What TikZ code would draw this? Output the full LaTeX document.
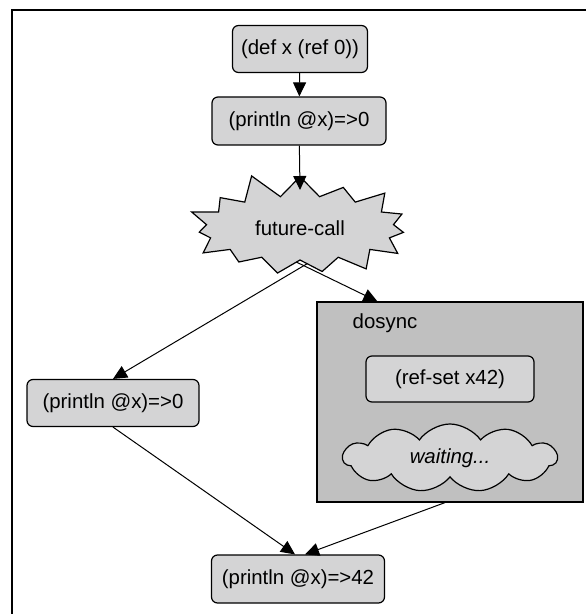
\documentclass[tikz,border=0pt]{standalone}
\usepackage{fontspec}
\setmainfont{Liberation Sans}
\usepackage{tikz}
\usetikzlibrary{calc}
\usetikzlibrary{shapes}
\usetikzlibrary{arrows.meta}
\usetikzlibrary{backgrounds}
\definecolor{boxgray}{RGB}{212,212,213}
\definecolor{syncgray}{RGB}{192,192,192}
\tikzset{
  stepbox/.style={draw, line width=0.6pt, rounded corners=3pt, fill=boxgray, minimum height=23.5pt, inner sep=0pt},
  flow/.style={-{Triangle[width=6.5pt,length=7pt]}, line width=0.5pt}
}

\begin{document}
\begin{tikzpicture}[x=0.5pt, y=-0.5pt, font=\fontsize{10.2}{12}\selectfont]
    \useasboundingbox (0,0) rectangle (586,614);
    %frame
    \draw[line width=1pt] (12,614) -- (12,10) -- (586,10);
    %dosync block
    \node[draw, line width=0.6pt, fill=syncgray, minimum width=133pt, minimum height=100pt] (dosync) at (450,402) {};
    \node (synclabel) at (385,323) {dosync};
    \node[stepbox, minimum width=84pt, minimum height=23pt] (refset) at (450,379) {(ref-set x42)};
    \node[cloud, cloud puffs=11, cloud puff arc=110, aspect=3.6, draw, line width=0.6pt, fill=boxgray,
          minimum width=107pt, minimum height=34pt, inner sep=0pt] (waiting) at (450,458) {\itshape waiting...};
    %calls
    \node[stepbox, minimum width=67.5pt] (defx) at (300,49) {(def x (ref 0))};
    \node[stepbox, minimum width=87pt, minimum height=24pt] (printa) at (299,121) {(println @x)=>0};
    \node[starburst, starburst points=15, starburst point height=13pt, random starburst=11, draw, line width=0.6pt,
          fill=boxgray, minimum width=120pt, minimum height=58pt, inner sep=0pt] (fc) at (300,228) {future-call};
    \node[stepbox, minimum width=86pt] (printb) at (113,403) {(println @x)=>0};
    \node[stepbox, minimum width=86.5pt, minimum height=24pt] (printc) at (298,579) {(println @x)=>42};
    %edges
    \draw[flow] (defx) -- (printa);
    \draw[flow] (printa) -- ($(fc.center)+(0,-38)$);
    \begin{scope}[on background layer]
    \coordinate (s1) at (310,262);
    \coordinate (s2) at (288,258);
    \draw[flow] (s1) -- (printb.north);
    \draw[flow] (s2) -- ($(dosync.north west)+(61,0)$);
    \end{scope}
    \draw[flow] (printb.south) -- ($(printc.north)+(-3,0)$);
    \draw[flow] ($(dosync.south)+(-5,0)$) -- ($(printc.north)+(7,0)$);
\end{tikzpicture}
\end{document}
